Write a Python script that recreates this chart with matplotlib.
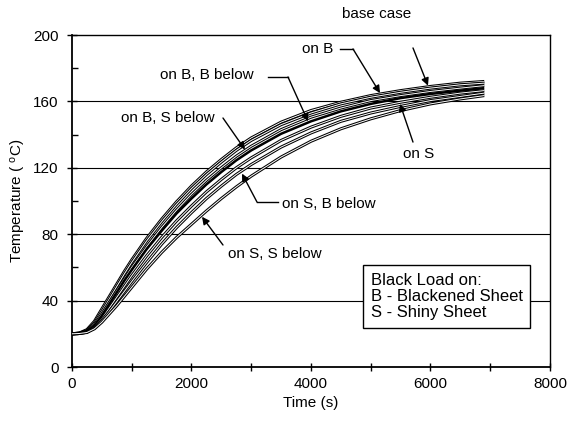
import matplotlib
matplotlib.use("Agg")
import matplotlib.pyplot as plt
from matplotlib.ticker import MultipleLocator

plt.rcParams['font.family'] = ['Liberation Sans', 'DejaVu Sans']
plt.rcParams['mathtext.default'] = 'regular'

time_s = [0, 125, 250, 375, 500, 625, 750, 875, 1000, 1250, 1500, 1750, 2000,
          2250, 2500, 2750, 3000, 3500, 4000, 4500, 5000, 5500, 6000, 6500, 6900]

base_case = [20, 20.5, 22.5, 27.5, 35, 42.5, 50, 57.5, 64.5, 77.5, 89, 99.5, 109,
             117.5, 125, 132, 138, 147.5, 154.5, 159.5, 163.5, 166.5, 169, 171, 172]
on_b = [20, 20.4, 22, 26.5, 33.5, 41, 48.5, 56, 63, 76, 87.5, 98, 107.5,
        116, 123.5, 130.5, 136.5, 146, 153, 158.5, 162.5, 165.5, 168, 170, 171]
on_b_s_below = [20, 20.3, 21.5, 25.5, 32, 39, 46, 53, 60, 72.5, 84, 94.5, 104,
                112.5, 120, 127, 133, 143, 150.5, 156, 160.5, 163.5, 166, 168, 169.5]
on_b_b_below = [20, 20.3, 21.5, 25, 31, 38, 45, 52, 58.5, 71, 82, 92.5, 101.5,
                110, 117.5, 124.5, 130.5, 140.5, 148, 154, 158.5, 162, 164.5, 166.5, 168]
on_s = [20, 20.2, 21, 24, 29, 35.5, 42, 48.5, 55, 67, 78, 88, 97,
        105.5, 113, 120, 126, 136.5, 144.5, 151, 156, 159.5, 162.5, 165, 166.5]
on_s_b_below = [20, 20.2, 21, 23.5, 28, 33.5, 39.5, 45.5, 51.5, 63, 74, 84, 93,
                101.5, 109, 116, 122, 132.5, 141, 148, 153, 157, 160.5, 163, 165]
on_s_s_below = [20, 20.2, 20.8, 23, 27, 32, 37, 42.5, 48, 59, 69, 78, 86,
                94, 101.5, 108.5, 115, 126.5, 136, 143.5, 149.5, 154.5, 158.5, 161.5, 163.5]

series = [base_case, on_b, on_b_s_below, on_b_b_below, on_s, on_s_b_below, on_s_s_below]

fig = plt.figure(figsize=(5.7, 4.3), dpi=100)
ax = fig.add_axes([0.1263, 0.1465, 0.8386, 0.7721])

for T in [40, 80, 120, 160]:
    ax.axhline(T, color='black', lw=0.8, zorder=1)

for i, s in enumerate(series):
    if i == 3:
        ax.plot(time_s, s, color='black', lw=1.8, zorder=3, solid_capstyle='butt')
    else:
        ax.plot(time_s, s, color='black', lw=2.2, zorder=3, solid_capstyle='butt')
        ax.plot(time_s, s, color='white', lw=0.7, zorder=3, solid_capstyle='butt')

ax.set_xlim(0, 8000)
ax.set_ylim(0, 200)
ax.xaxis.set_major_locator(MultipleLocator(2000))
ax.xaxis.set_minor_locator(MultipleLocator(1000))
ax.yaxis.set_major_locator(MultipleLocator(40))
ax.yaxis.set_minor_locator(MultipleLocator(20))
ax.tick_params(axis='x', which='both', direction='inout', length=6, width=1, labelsize=11, pad=4)
ax.tick_params(axis='y', which='major', direction='inout', length=7, width=1, labelsize=11, pad=6)
ax.tick_params(axis='y', which='minor', direction='in', length=4, width=1)
for sp in ['left', 'bottom']:
    ax.spines[sp].set_linewidth(1.3)
for sp in ['top', 'right']:
    ax.spines[sp].set_linewidth(1.0)

ax.set_xlabel('Time (s)', fontsize=11)
ax.set_ylabel('Temperature ( $^{o}$C)', fontsize=11)

fs = 11
arrow = dict(arrowstyle='-|>', color='black', lw=1, mutation_scale=11, shrinkA=0, shrinkB=0)

# base case
ax.text(5105, 212.5, 'base case', fontsize=fs, ha='center', va='center', clip_on=False)
ax.annotate('', xy=(5958, 169.5), xytext=(5707, 192.2), arrowprops=arrow)
# on B
ax.text(3849, 191.6, 'on B', fontsize=fs, ha='left', va='center')
ax.plot([4485, 4703], [191.6, 191.6], color='black', lw=1)
ax.annotate('', xy=(5155, 165.0), xytext=(4703, 191.6), arrowprops=arrow)
# on B, B below
ax.text(1473, 175.9, 'on B, B below', fontsize=fs, ha='left', va='center')
ax.plot([3280, 3615], [174.7, 174.7], color='black', lw=1)
ax.annotate('', xy=(3950, 148.0), xytext=(3615, 174.7), arrowprops=arrow)
# on B, S below
ax.text(820, 150, 'on B, S below', fontsize=fs, ha='left', va='center')
ax.annotate('', xy=(2895, 131.0), xytext=(2527, 150), arrowprops=arrow)
# on S
ax.text(5540, 128.3, 'on S', fontsize=fs, ha='left', va='center')
ax.annotate('', xy=(5490, 158.5), xytext=(5707, 135.5), arrowprops=arrow)
# on S, B below
ax.text(3515, 98.2, 'on S, B below', fontsize=fs, ha='left', va='center')
ax.plot([3096, 3448], [99.4, 99.4], color='black', lw=1)
ax.annotate('', xy=(2845, 116.5), xytext=(3096, 99.4), arrowprops=arrow)
# on S, S below
ax.text(2611, 68.1, 'on S, S below', fontsize=fs, ha='left', va='center')
ax.annotate('', xy=(2176, 90.5), xytext=(2527, 73.5), arrowprops=arrow)

ax.text(5000, 42.5, 'Black Load on:\nB - Blackened Sheet\nS - Shiny Sheet',
        fontsize=12, ha='left', va='center', linespacing=1.12, zorder=6,
        bbox=dict(boxstyle='square,pad=0.45', fc='white', ec='black', lw=1))

fig.savefig('out.png', dpi=100)
